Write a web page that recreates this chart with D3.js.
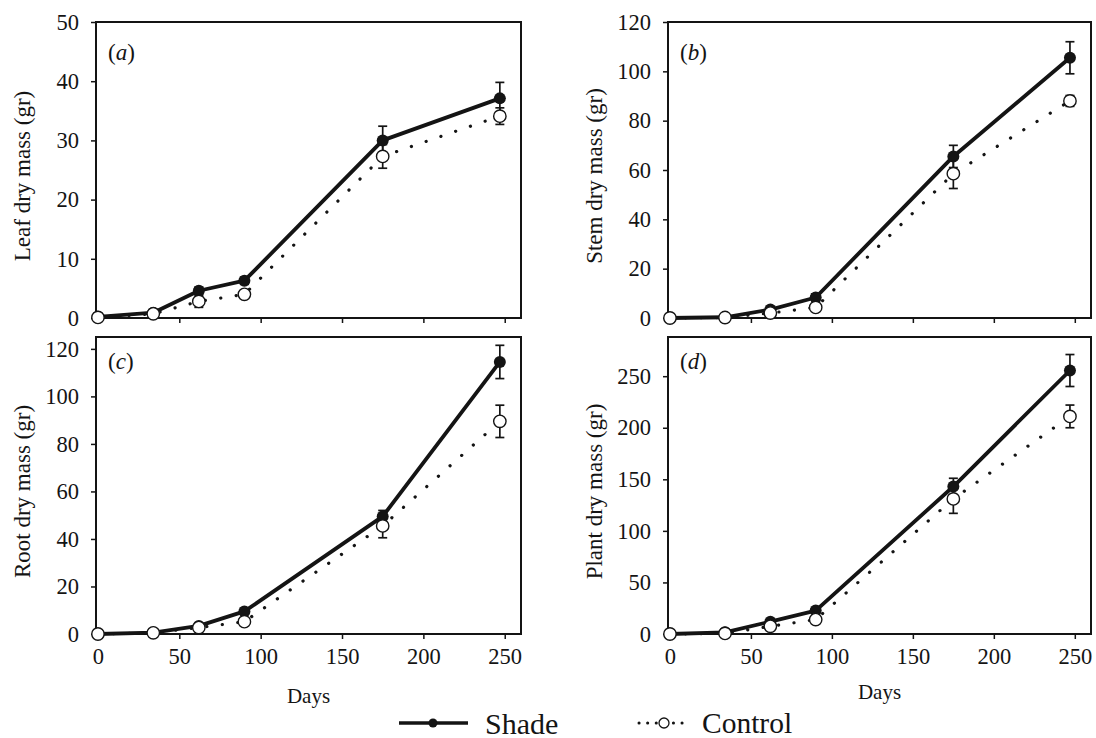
<!DOCTYPE html>
<html><head><meta charset="utf-8">
<script src="https://cdn.jsdelivr.net/npm/d3@7"></script>
<style>body{margin:0;background:#fff}</style>
</head><body>
<svg id="chart" width="1096" height="738"></svg>
<script>
// ---- data ----
const days = [0, 34, 62, 90, 175, 247];
const xTicks = [0, 50, 100, 150, 200, 250];

const leafShade = [0.2, 0.9, 4.6, 6.3, 30.0, 37.1];
const leafShadeErr = [0, 0.2, 0.6, 0.6, 2.4, 2.7];
const leafControl = [0.1, 0.7, 2.8, 4.0, 27.3, 34.1];
const leafControlErr = [0, 0.2, 1.0, 0.5, 2.0, 1.4];
const leafTicks = [0, 10, 20, 30, 40, 50];

const stemShade = [0, 0.3, 3.4, 8.3, 65.5, 105.5];
const stemShadeErr = [0, 0, 0.8, 1.5, 4.5, 6.5];
const stemControl = [0, 0.2, 2.0, 4.3, 58.5, 88.0];
const stemControlErr = [0, 0, 0.5, 1.0, 6.0, 2.2];
const stemTicks = [0, 20, 40, 60, 80, 100, 120];

const rootShade = [0, 0.6, 3.4, 9.5, 49.5, 114.5];
const rootShadeErr = [0, 0, 0.5, 1.2, 2.5, 7.0];
const rootControl = [0, 0.5, 2.7, 5.2, 45.5, 89.5];
const rootControlErr = [0, 0, 0.5, 0.8, 5.0, 6.8];
const rootTicks = [0, 20, 40, 60, 80, 100, 120];

const plantShade = [0, 1.6, 12, 22.7, 143, 255.5];
const plantShadeErr = [0, 0, 1.5, 2.5, 8, 15.5];
const plantControl = [0, 0.6, 7.5, 14, 131, 211];
const plantControlErr = [0, 0, 1, 2, 14, 11];
const plantTicks = [0, 50, 100, 150, 200, 250];

const panelLetters = ["a", "b", "c", "d"];
const yTitles = ["Leaf dry mass (gr)", "Stem dry mass (gr)", "Root dry mass (gr)", "Plant dry mass (gr)"];
const yMaxes = [50, 120, 125, 288];
const xTitle = "Days";
const seriesNames = ["Shade", "Control"];

const panels = [
  {shade: leafShade, se: leafShadeErr, ctrl: leafControl, ce: leafControlErr, ticks: leafTicks},
  {shade: stemShade, se: stemShadeErr, ctrl: stemControl, ce: stemControlErr, ticks: stemTicks},
  {shade: rootShade, se: rootShadeErr, ctrl: rootControl, ce: rootControlErr, ticks: rootTicks},
  {shade: plantShade, se: plantShadeErr, ctrl: plantControl, ce: plantControlErr, ticks: plantTicks}
];

// ---- layout ----
const FONT = "'Liberation Serif','Times New Roman',serif";
const INK = "#141414";
const cols = [{l: 96, r: 521}, {l: 668, r: 1091}];
const rows = [{t: 22, b: 318, lab: 31}, {t: 337, b: 634, lab: 25}];
const svg = d3.select("#chart");
svg.append("rect").attr("width", 1096).attr("height", 738).attr("fill", "#fff");

panels.forEach((p, i) => {
  const col = cols[i % 2], row = rows[Math.floor(i / 2)];
  const bottomRow = i >= 2;
  const x = d3.scaleLinear().domain([-1.2, 260]).range([col.l, col.r]);
  const y = d3.scaleLinear().domain([0, yMaxes[i]]).range([row.b, row.t]);
  const g = svg.append("g");

  const ya = g.append("g").attr("transform", `translate(${col.l},0)`)
    .call(d3.axisLeft(y).tickValues(p.ticks).tickSize(5).tickPadding(12));
  ya.select(".domain").remove();
  ya.selectAll("text").attr("font-family", FONT).attr("font-size", 22.5).attr("fill", INK);
  ya.selectAll("line").attr("stroke", INK).attr("stroke-width", 1.5);

  const xa = g.append("g").attr("transform", `translate(0,${row.b})`)
    .call(d3.axisBottom(x).tickValues(bottomRow ? xTicks : xTicks.slice(1)).tickSize(5).tickPadding(9)
      .tickFormat(bottomRow ? d3.format("d") : () => ""));
  xa.select(".domain").remove();
  xa.selectAll("text").attr("font-family", FONT).attr("font-size", 22.5).attr("fill", INK);
  xa.selectAll("line").attr("stroke", INK).attr("stroke-width", 1.5);

  g.append("rect").attr("x", col.l).attr("y", row.t).attr("width", col.r - col.l).attr("height", row.b - row.t)
    .attr("fill", "none").attr("stroke", INK).attr("stroke-width", 2);

  const line = d3.line().x((d, k) => x(days[k])).y(d => y(d));
  g.append("path").datum(p.ctrl).attr("d", line).attr("fill", "none").attr("stroke", INK)
    .attr("stroke-width", 3.2).attr("stroke-linecap", "round").attr("stroke-dasharray", "0.1,15.5");
  g.append("path").datum(p.shade).attr("d", line).attr("fill", "none").attr("stroke", INK)
    .attr("stroke-width", 3.8).attr("stroke-linejoin", "round");

  const drawErr = (vals, errs) => {
    vals.forEach((v, k) => {
      if (!errs[k]) return;
      const cx = x(days[k]), y1 = y(v + errs[k]), y2 = y(v - errs[k]);
      g.append("line").attr("x1", cx).attr("x2", cx).attr("y1", y1).attr("y2", y2).attr("stroke", INK).attr("stroke-width", 1.7);
      [y1, y2].forEach(yy => g.append("line").attr("x1", cx - 4.5).attr("x2", cx + 4.5).attr("y1", yy).attr("y2", yy)
        .attr("stroke", INK).attr("stroke-width", 1.7));
    });
  };
  drawErr(p.shade, p.se);
  drawErr(p.ctrl, p.ce);

  g.selectAll(null).data(p.shade).enter().append("circle")
    .attr("cx", (d, k) => x(days[k])).attr("cy", d => y(d)).attr("r", 6).attr("fill", INK);
  g.selectAll(null).data(p.ctrl).enter().append("circle")
    .attr("cx", (d, k) => x(days[k])).attr("cy", d => y(d)).attr("r", 6.2).attr("fill", "#fff")
    .attr("stroke", INK).attr("stroke-width", 1.4);

  const lab = g.append("text").attr("x", col.l + 12).attr("y", row.t + row.lab + 7)
    .attr("font-family", FONT).attr("font-size", 23).attr("fill", INK);
  lab.append("tspan").text("(");
  lab.append("tspan").attr("font-style", "italic").text(panelLetters[i]);
  lab.append("tspan").text(")");

  g.append("text").attr("transform", `translate(${col.l - 74},${(row.t + row.b) / 2 + 6}) rotate(-90)`)
    .attr("text-anchor", "middle").attr("dominant-baseline", "central")
    .attr("font-family", FONT).attr("font-size", 23).attr("fill", INK).text(yTitles[i]);

  if (bottomRow) {
    g.append("text").attr("x", (col.l + col.r) / 2).attr("y", row.b + 62 - (i === 3 ? 4 : 0))
      .attr("text-anchor", "middle").attr("dominant-baseline", "central")
      .attr("font-family", FONT).attr("font-size", 21).attr("fill", INK).text(xTitle);
  }
});

// ---- legend ----
const ly = 723;
const lg = svg.append("g");
lg.append("line").attr("x1", 399).attr("x2", 468).attr("y1", ly).attr("y2", ly).attr("stroke", INK).attr("stroke-width", 3.4);
lg.append("circle").attr("cx", 433).attr("cy", ly).attr("r", 4.5).attr("fill", INK);
lg.append("text").attr("x", 485).attr("y", ly).attr("dominant-baseline", "central")
  .attr("font-family", FONT).attr("font-size", 30).attr("fill", INK).text(seriesNames[0]);
lg.append("line").attr("x1", 639).attr("x2", 689).attr("y1", ly).attr("y2", ly).attr("stroke", INK)
  .attr("stroke-width", 3).attr("stroke-linecap", "round").attr("stroke-dasharray", "0.1,8.5");
lg.append("circle").attr("cx", 664).attr("cy", ly).attr("r", 5).attr("fill", "#fff").attr("stroke", INK).attr("stroke-width", 1.3);
lg.append("text").attr("x", 702).attr("y", ly).attr("dominant-baseline", "central")
  .attr("font-family", FONT).attr("font-size", 29.5).attr("fill", INK).text(seriesNames[1]);
</script>
</body></html>
